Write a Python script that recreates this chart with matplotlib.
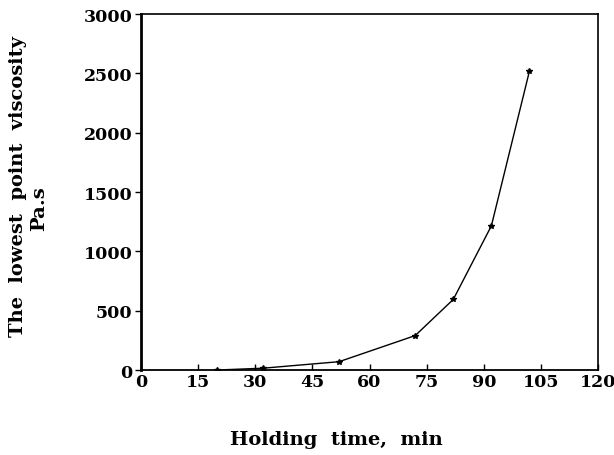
import matplotlib
matplotlib.use('Agg')
import matplotlib.pyplot as plt

# holding time (min) vs lowest point viscosity (Pa.s)
hold_time = [20, 32, 52, 72, 82, 92, 102]
viscosity = [0, 15, 70, 290, 595, 1215, 2520]

x_ticks = [0, 15, 30, 45, 60, 75, 90, 105, 120]
y_ticks = [0, 500, 1000, 1500, 2000, 2500, 3000]

lab_font = dict(family='DejaVu Serif', fontweight='bold', fontsize=14)

fig = plt.figure(figsize=(6.14, 4.56), dpi=100)
ax = fig.add_axes([0.2296, 0.1864, 0.7444, 0.7807])

ax.plot(hold_time, viscosity, color='black', lw=1.0, marker='*', ms=4)

ax.set_xlim(0, 120)
ax.set_ylim(0, 3000)
ax.set_xticks(x_ticks)
ax.set_yticks(y_ticks)
ax.tick_params(axis='x', direction='in', length=4, width=1, pad=2)
ax.tick_params(axis='y', direction='out', length=4, width=1, pad=2)
for lab in ax.get_xticklabels() + ax.get_yticklabels():
    lab.set_fontfamily('DejaVu Serif')
    lab.set_fontweight('bold')
    lab.set_fontsize(12.5)

ax.spines['left'].set_linewidth(2.0)
ax.spines['bottom'].set_linewidth(1.3)
ax.spines['top'].set_linewidth(1.2)
ax.spines['right'].set_linewidth(1.2)

fig.text(0.548, 0.035, "Holding  time,  min", ha='center', va='center', **lab_font)
fig.text(0.030, 0.59, "The  lowest  point  viscosity", ha='center', va='center',
         rotation=90, **lab_font)
fig.text(0.064, 0.542, "Pa.s", ha='center', va='center', rotation=90, **lab_font)

plt.savefig('out.png', dpi=100)
